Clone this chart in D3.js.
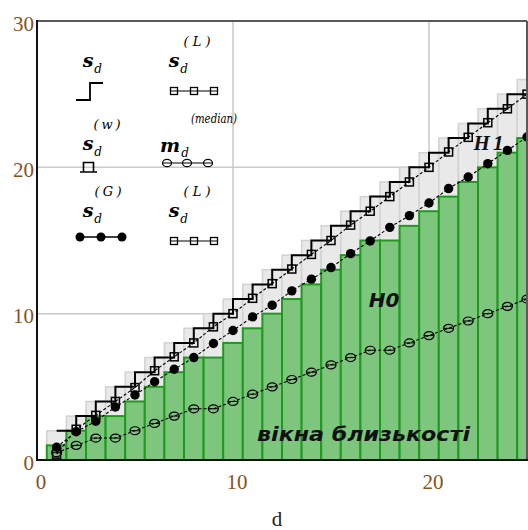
<!DOCTYPE html>
<html>
<head>
<meta charset="utf-8">
<script src="https://cdn.jsdelivr.net/npm/d3@7"></script>
<style>
  html, body { margin: 0; padding: 0; background: #fff; }
  svg { display: block; }
</style>
</head>
<body>
<svg id="chart" width="528" height="530"></svg>
<script>
// window size d
const dValues = [1,2,3,4,5,6,7,8,9,10,11,12,13,14,15,16,17,18,19,20,21,22,23,24,25];
// s_d^(w): counts per proximity window (green bars)
const windowCounts = [1,2,3,3,4,5,6,7,7,8,9,10,11,12,13,14,15,15,16,17,18,19,20,21,22];
// s_d: upper step (grey bars and step line)
const upperCounts = [2,3,4,5,6,7,8,9,10,11,12,13,14,15,16,17,18,19,20,21,22,23,24,25,26];
// s_d^(L): square markers
const lowerEst = [0.4,2.1,3.05,4,4.95,6.1,7.05,8,9.1,10,11.05,12.05,13.05,14.05,15,16.05,17,18,19,20,21.05,22.05,23.05,24,25];
// s_d^(G): filled circles
const gaussEst = [0.87,1.93,2.65,3.62,4.44,5.35,6.2,7.0,7.96,8.85,9.78,10.58,11.56,12.36,13.15,14.1,14.97,15.9,16.7,17.56,18.55,19.34,20.25,21.16,22.07];
// m_d^(median): open circles
const medianVals = [0.5,1,1.5,1.5,2,2.5,3,3.5,3.5,4,4.5,5,5.5,6,6.5,7,7.5,7.5,8,8.5,9,9.5,10,10.5,11];

const xTicks = [0, 10, 20];
const yTicks = [0, 10, 20, 30];
const gridX = [10, 20];
const gridY = [10, 20];

const svg = d3.select("#chart");
const plotL = 37, plotR = 527, plotT = 21, plotB = 460;

const x = d3.scaleLinear().domain([0, 25]).range([plotL, plotR]);
const y = d3.scaleLinear().domain([0, 30]).range([plotB, plotT]);

svg.append("defs").append("clipPath").attr("id", "plotClip")
  .append("rect").attr("x", plotL).attr("y", plotT).attr("width", plotR - plotL).attr("height", plotB - plotT);

// grid
const grid = svg.append("g");
grid.selectAll("line.gx").data(gridX).join("line")
  .attr("x1", d => x(d)).attr("x2", d => x(d)).attr("y1", plotT).attr("y2", plotB)
  .attr("stroke", "#c9c9c9").attr("stroke-width", 1.5);
grid.selectAll("line.gy").data(gridY).join("line")
  .attr("y1", d => y(d)).attr("y2", d => y(d)).attr("x1", plotL).attr("x2", plotR)
  .attr("stroke", "#c9c9c9").attr("stroke-width", 1.5);

const plot = svg.append("g").attr("clip-path", "url(#plotClip)");

// grey bars s_d
plot.selectAll("rect.upper").data(dValues).join("rect")
  .attr("x", (d) => x(d - 0.5)).attr("width", x(1) - x(0))
  .attr("y", (d, i) => y(upperCounts[i])).attr("height", (d, i) => y(0) - y(upperCounts[i]))
  .attr("fill", "#e9e9e9").attr("stroke", "#d2d2d2").attr("stroke-width", 1.5);

// green bars s_d^(w)
plot.selectAll("rect.win").data(dValues).join("rect")
  .attr("x", (d) => x(d - 0.5)).attr("width", x(1) - x(0))
  .attr("y", (d, i) => y(windowCounts[i])).attr("height", (d, i) => y(0) - y(windowCounts[i]))
  .attr("fill", "#7ec67e").attr("stroke", "#1f9a1f").attr("stroke-width", 2);

// step line s_d
const stepLine = d3.line().x(p => x(p[0])).y(p => y(p[1])).curve(d3.curveStepAfter);
plot.append("path").datum(dValues.map((d, i) => [d, upperCounts[i]]))
  .attr("d", stepLine).attr("fill", "none").attr("stroke", "#000").attr("stroke-width", 2);

const line = d3.line().x(p => x(p[0])).y(p => y(p[1]));

// median line
const medPts = dValues.map((d, i) => [d, medianVals[i]]);
plot.append("path").datum(medPts).attr("d", line)
  .attr("fill", "none").attr("stroke", "#000").attr("stroke-width", 1.1).attr("stroke-dasharray", "3,2");
const medG = plot.selectAll("g.med").data(medPts).join("g")
  .attr("transform", p => `translate(${x(p[0])},${y(p[1])})`);
medG.append("ellipse").attr("rx", 5).attr("ry", 4).attr("fill", "none").attr("stroke", "#000").attr("stroke-width", 1.2);
medG.append("line").attr("x1", -5).attr("x2", 5).attr("stroke", "#000").attr("stroke-width", 1);

// s_d^(G) line
const gPts = dValues.map((d, i) => [d, gaussEst[i]]);
plot.append("path").datum(gPts).attr("d", line)
  .attr("fill", "none").attr("stroke", "#000").attr("stroke-width", 1.1).attr("stroke-dasharray", "3,2");
plot.selectAll("circle.g").data(gPts).join("circle")
  .attr("cx", p => x(p[0])).attr("cy", p => y(p[1])).attr("r", 4.7).attr("fill", "#000");

// s_d^(L) line
const lPts = dValues.map((d, i) => [d, lowerEst[i]]);
plot.append("path").datum(lPts).attr("d", line)
  .attr("fill", "none").attr("stroke", "#000").attr("stroke-width", 1.1).attr("stroke-dasharray", "3,2");
plot.selectAll("rect.l").data(lPts).join("rect")
  .attr("x", p => x(p[0]) - 4).attr("y", p => y(p[1]) - 4).attr("width", 8).attr("height", 8)
  .attr("fill", "none").attr("stroke", "#000").attr("stroke-width", 1.5);

// frame
svg.append("line").attr("x1", plotL).attr("x2", plotR).attr("y1", plotT).attr("y2", plotT)
  .attr("stroke", "#5a5a5a").attr("stroke-width", 2);
svg.append("line").attr("x1", plotR).attr("x2", plotR).attr("y1", plotT).attr("y2", plotB)
  .attr("stroke", "#5a5a5a").attr("stroke-width", 2);
svg.append("line").attr("x1", plotL).attr("x2", plotL).attr("y1", plotT - 1).attr("y2", plotB + 1)
  .attr("stroke", "#111").attr("stroke-width", 2);
svg.append("line").attr("x1", plotL - 1).attr("x2", plotR + 1).attr("y1", plotB).attr("y2", plotB)
  .attr("stroke", "#111").attr("stroke-width", 2);

// tick labels
const tickColor = "#85521e";
const tickFont = "'Liberation Serif', 'Times New Roman', serif";
svg.selectAll("text.xt").data(xTicks).join("text")
  .attr("x", d => x(d) + 4).attr("y", 489)
  .attr("text-anchor", "middle").attr("font-family", tickFont).attr("font-size", 21)
  .attr("fill", tickColor).text(d => d);
svg.selectAll("text.yt").data(yTicks).join("text")
  .attr("x", 34).attr("y", d => y(d) + 9.5)
  .attr("text-anchor", "end").attr("font-family", tickFont).attr("font-size", 21)
  .attr("fill", tickColor).text(d => d);
svg.append("text").attr("x", 277).attr("y", 526).attr("text-anchor", "middle")
  .attr("font-family", tickFont).attr("font-size", 21).attr("fill", "#2a2016").text("d");

// legend
const lg = svg.append("g");
const mathFont = "'DejaVu Serif', serif";
function sym(cx, baseY, main, sub, sup, supX) {
  lg.append("text").attr("x", cx).attr("y", baseY).attr("text-anchor", "middle")
    .attr("font-family", mathFont).attr("font-style", "italic").attr("font-weight", "bold")
    .attr("font-size", 19).text(main);
  lg.append("text").attr("x", cx + 10).attr("y", baseY + 6).attr("text-anchor", "middle")
    .attr("font-family", mathFont).attr("font-style", "italic")
    .attr("font-size", 12).text(sub);
  if (sup) {
    lg.append("text").attr("x", supX).attr("y", baseY - 21).attr("text-anchor", "middle")
      .attr("font-family", mathFont).attr("font-style", "italic")
      .attr("font-size", 13).attr("textLength", 27).attr("lengthAdjust", "spacing").text(sup);
  }
}
sym(88, 67, "s", "d", null);
lg.append("path").attr("d", "M76,100 H90 V83 H103").attr("fill", "none").attr("stroke", "#000").attr("stroke-width", 1.8);

sym(88, 150, "s", "d", "(w)", 107);
lg.append("path").attr("d", "M80,172 H97 M83.5,172 V162.5 H93.5 V172").attr("fill", "none").attr("stroke", "#000").attr("stroke-width", 1.6);

sym(88, 217, "s", "d", "(G)", 108);
lg.append("line").attr("x1", 80).attr("x2", 122).attr("y1", 237).attr("y2", 237).attr("stroke", "#000").attr("stroke-width", 1.5);
[80, 101, 122].forEach(cx => lg.append("circle").attr("cx", cx).attr("cy", 237).attr("r", 4.5).attr("fill", "#000"));

sym(174, 67, "s", "d", "(L)", 197);
function squares(yy) {
  lg.append("line").attr("x1", 171).attr("x2", 217).attr("y1", yy).attr("y2", yy).attr("stroke", "#000").attr("stroke-width", 1.2);
  [174, 194, 214].forEach(cx => lg.append("rect").attr("x", cx - 3.5).attr("y", yy - 3.5).attr("width", 7).attr("height", 7)
    .attr("fill", "none").attr("stroke", "#000").attr("stroke-width", 1.3));
}
squares(91);

lg.append("text").attr("x", 170).attr("y", 152).attr("text-anchor", "middle")
  .attr("font-family", mathFont).attr("font-style", "italic").attr("font-weight", "bold")
  .attr("font-size", 19).text("m");
lg.append("text").attr("x", 185).attr("y", 157).attr("text-anchor", "middle")
  .attr("font-family", mathFont).attr("font-style", "italic").attr("font-size", 12).text("d");
lg.append("text").attr("x", 191).attr("y", 123).attr("font-family", mathFont).attr("font-style", "italic")
  .attr("font-size", 13).attr("textLength", 46).attr("lengthAdjust", "spacingAndGlyphs").text("(median)");
lg.append("line").attr("x1", 163).attr("x2", 212).attr("y1", 163).attr("y2", 163).attr("stroke", "#000").attr("stroke-width", 1.2);
[167, 187, 208].forEach(cx => lg.append("ellipse").attr("cx", cx).attr("cy", 163).attr("rx", 4.5).attr("ry", 3.7)
  .attr("fill", "none").attr("stroke", "#000").attr("stroke-width", 1.2));

sym(174, 217, "s", "d", "(L)", 197);
squares(241);

// annotations
svg.append("text").attr("x", 490).attr("y", 150).attr("text-anchor", "middle")
  .attr("font-family", "'Liberation Serif', serif").attr("font-style", "italic").attr("font-weight", "bold")
  .attr("font-size", 21).attr("letter-spacing", 3).attr("fill", "#111").text("H1");
svg.append("text").attr("x", 384).attr("y", 307).attr("text-anchor", "middle")
  .attr("font-family", "'DejaVu Sans', sans-serif").attr("font-style", "italic").attr("font-weight", "bold")
  .attr("font-size", 20).attr("fill", "#111").text("H0");
svg.append("text").attr("x", 257).attr("y", 441)
  .attr("font-family", "'DejaVu Sans', sans-serif").attr("font-style", "italic").attr("font-weight", "bold")
  .attr("font-size", 20).attr("textLength", 213).attr("lengthAdjust", "spacingAndGlyphs")
  .attr("fill", "#111").text("вікна близькості");
</script>
</body>
</html>
